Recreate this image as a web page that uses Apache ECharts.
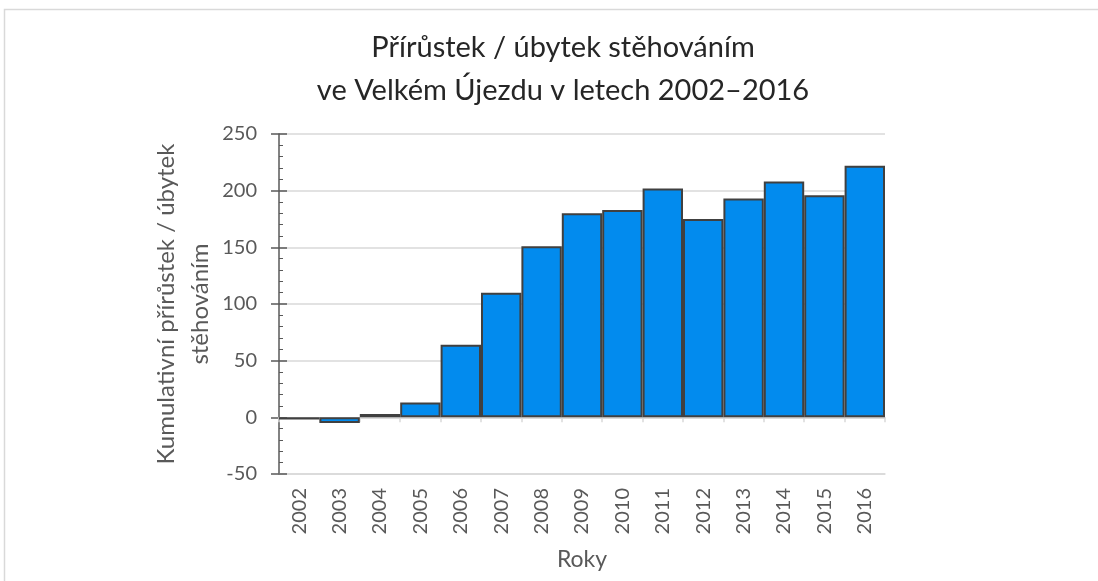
<!DOCTYPE html>
<html>
<head>
<meta charset="utf-8">
<script src="https://cdn.jsdelivr.net/npm/echarts@6/dist/echarts.min.js"></script>
<style>
  html, body { margin: 0; padding: 0; background: #fff; }
  #main { width: 1098px; height: 581px; }
</style>
</head>
<body>
<div id="main"></div>
<script>
// roky a kumulativni prirustek
var roky = ['2002', '2003', '2004', '2005', '2006', '2007', '2008', '2009',
  '2010', '2011', '2012', '2013', '2014', '2015', '2016'];
var prirustek = [-2, -5, 3, 13, 64, 110, 151, 180, 183, 202, 175, 193, 208, 196, 222];

var font = 'Lato';
var chart = echarts.init(document.getElementById('main'), null, { renderer: 'canvas' });

var option = {
  animation: false,
  textStyle: { fontFamily: font },
  title: {
    text: 'Přírůstek / úbytek stěhováním\nve Velkém Újezdu v letech 2002–2016',
    left: 558,
    textAlign: 'center',
    top: 21,
    textStyle: {
      fontFamily: font,
      fontSize: 29,
      fontWeight: 'normal',
      color: '#262626',
      lineHeight: 43
    }
  },
  graphic: [{
    type: 'rect',
    shape: { x: 4.5, y: 9.5, width: 1120, height: 620 },
    style: { fill: 'none', stroke: '#d9d9d9', lineWidth: 1.5 },
    silent: true
  }],
  grid: {
    left: 279,
    right: 213,
    top: 134,
    bottom: 107
  },
  xAxis: [{
    type: 'category',
    data: roky,
    position: 'bottom',
    name: 'Roky',
    nameLocation: 'middle',
    nameGap: 74,
    nameTextStyle: { fontSize: 23, color: '#595959', fontFamily: font },
    axisLine: { onZero: false, lineStyle: { color: '#d9d9d9', width: 1.5 } },
    axisTick: { show: false },
    axisLabel: {
      rotate: 90,
      margin: 14,
      fontSize: 20,
      color: '#595959',
      fontFamily: font
    }
  }, {
    type: 'category',
    data: roky,
    position: 'top',
    axisLine: { onZero: true, lineStyle: { color: '#d9d9d9', width: 1.5 } },
    axisTick: { show: true, inside: true, length: 5, lineStyle: { color: '#d9d9d9', width: 1.5 } },
    axisLabel: { show: false }
  }],
  yAxis: [{
    type: 'value',
    min: -50,
    max: 250,
    interval: 50,
    name: 'Kumulativní přírůstek / úbytek\nstěhováním',
    nameLocation: 'middle',
    nameRotate: 90,
    nameGap: 62,
    nameMoveOverlap: false,
    nameTextStyle: { fontSize: 24, color: '#595959', fontFamily: font, lineHeight: 34 },
    axisLine: { show: true, lineStyle: { color: '#595959', width: 1.5 } },
    axisTick: { show: true, length: 8, lineStyle: { color: '#595959', width: 1.5 } },
    axisLabel: { fontSize: 20, color: '#595959', margin: 22, fontFamily: font },
    splitLine: { show: true, lineStyle: { color: '#d9d9d9', width: 1.5 } }
  }, {
    // vnitrni carky (hlavni i vedlejsi) na stejne ose
    type: 'value',
    min: -50,
    max: 250,
    interval: 50,
    position: 'left',
    axisLine: { show: false },
    axisTick: { show: true, inside: true, length: 8, lineStyle: { color: '#595959', width: 1.5 } },
    minorTick: { show: true, splitNumber: 5, length: 4, lineStyle: { color: '#595959', width: 1 } },
    axisLabel: { show: false },
    splitLine: { show: false }
  }],
  series: [{
    name: 'Přírůstek',
    type: 'bar',
    data: prirustek,
    barCategoryGap: 0,
    itemStyle: {
      color: '#028bee',
      borderColor: '#404040',
      borderWidth: 2
    }
  }]
};

chart.setOption(option);
</script>
</body>
</html>
